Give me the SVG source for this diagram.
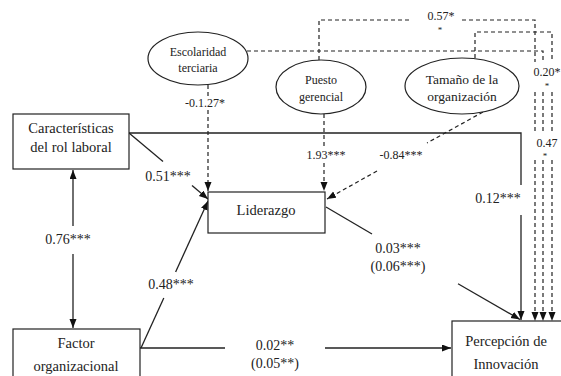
<svg xmlns="http://www.w3.org/2000/svg" width="561" height="376" viewBox="0 0 561 376" font-family="'Liberation Serif', 'DejaVu Serif', serif">
<style>
text{font-family:'Liberation Serif','DejaVu Serif',serif;fill:#222;text-anchor:middle}
.b{font-size:14.5px}
.e{font-size:12px}
.l{font-size:14px}
.s{font-size:12px}
.node{fill:#fff;stroke:#222;stroke-width:1.2}
.c{fill:none;stroke:#222;stroke-width:1.3}
.d{fill:none;stroke:#222;stroke-width:1.2;stroke-dasharray:4 3}
</style>
<defs>
<marker id="ah" markerUnits="userSpaceOnUse" markerWidth="10" markerHeight="8" refX="9" refY="3.5" orient="auto">
<path d="M0,0 L9,3.5 L0,7 z" fill="#111"/>
</marker>
</defs>
<rect width="561" height="376" fill="#fff"/>
<g id="connectors">
<path class="d" d="M319,60 V20 H412"/>
<path class="d" d="M462,20 H535 V62"/>
<path class="d" d="M535,92 V134"/>
<path class="d" d="M535,160 V321" marker-end="url(#ah)"/>
<path class="d" d="M475,58 V32 H552 V62"/>
<path class="d" d="M552,92 V134"/>
<path class="d" d="M552,160 V321" marker-end="url(#ah)"/>
<path class="d" d="M247,51 H543 V62"/>
<path class="d" d="M543,92 V134"/>
<path class="d" d="M543,160 V321" marker-end="url(#ah)"/>
<path class="d" d="M208,85 V96"/>
<path class="d" d="M208,110 V191" marker-end="url(#ah)"/>
<path class="d" d="M324,114 V147"/>
<path class="d" d="M324,163 V191" marker-end="url(#ah)"/>
<path class="d" d="M483,112 L427,143"/>
<path class="d" d="M377,171 L327,199" marker-end="url(#ah)"/>
<path class="c" d="M129,133 H521 V185"/>
<path class="c" d="M521,215 V320" marker-end="url(#ah)"/>
<path class="c" d="M129,133 L163,161.4"/>
<path class="c" d="M192,185.6 L208,199" marker-end="url(#ah)"/>
<path class="c" d="M141,348 L163.8,298"/>
<path class="c" d="M175.6,272 L208,201" marker-end="url(#ah)"/>
<path class="c" d="M140,348 H225"/>
<path class="c" d="M325,348 H451" marker-end="url(#ah)"/>
<path class="c" d="M326,207 L372,234"/>
<path class="c" d="M458,283.7 L520,319.5" marker-end="url(#ah)"/>
<path class="c" d="M73,226 V170" marker-end="url(#ah)"/>
<path class="c" d="M73,254 V328" marker-end="url(#ah)"/>
<text class="s" x="441" y="20">0.57*</text>
<text class="s" x="440" y="33" style="font-size:9px">*</text>
<text class="s" x="547" y="76">0.20*</text>
<text class="s" x="547" y="89" style="font-size:9px">*</text>
<text class="s" x="547" y="147">0.47</text>
<text class="s" x="545" y="159" style="font-size:9px">*</text>
<text class="s" x="205" y="107">-0.1.27*</text>
<text class="s" x="326" y="159">1.93***</text>
<text class="s" x="401" y="159">-0.84***</text>
<text class="l" x="498" y="203">0.12***</text>
<text class="l" x="168" y="181">0.51***</text>
<text class="l" x="68" y="244">0.76***</text>
<text class="l" x="171" y="289">0.48***</text>
<text class="l" x="398" y="253">0.03***</text>
<text class="l" x="398" y="271">(0.06***)</text>
<text class="l" x="275" y="350">0.02**</text>
<text class="l" x="275" y="368">(0.05**)</text>
</g>
<g id="escolaridad">
<ellipse class="node" cx="198" cy="58.5" rx="50" ry="26.5"/>
<text class="e" x="198" y="56">Escolaridad</text>
<text class="e" x="198" y="72">terciaria</text>
</g>
<g id="puesto">
<ellipse class="node" cx="321" cy="87" rx="45" ry="27"/>
<text class="e" x="321" y="84">Puesto</text>
<text class="e" x="321" y="101">gerencial</text>
</g>
<g id="tamano">
<ellipse class="node" cx="462" cy="86" rx="57" ry="28"/>
<text class="e" x="462" y="84" style="font-size:13.5px">Tamaño de la</text>
<text class="e" x="462" y="101" style="font-size:13.5px">organización</text>
</g>
<g id="caracteristicas">
<rect class="node" x="13" y="114" width="116" height="55"/>
<text class="b" x="71" y="133">Características</text>
<text class="b" x="71" y="152">del rol laboral</text>
</g>
<g id="factor">
<rect class="node" x="13" y="329" width="127" height="60"/>
<text class="b" x="76" y="348">Factor</text>
<text class="b" x="76" y="371">organizacional</text>
</g>
<g id="liderazgo">
<rect class="node" x="208" y="192" width="117" height="41"/>
<text class="b" x="266" y="215">Liderazgo</text>
</g>
<g id="percepcion">
<rect class="node" x="452" y="321" width="112" height="60"/>
<text class="b" x="506" y="346">Percepción de</text>
<text class="b" x="506" y="369">Innovación</text>
</g>
</svg>
